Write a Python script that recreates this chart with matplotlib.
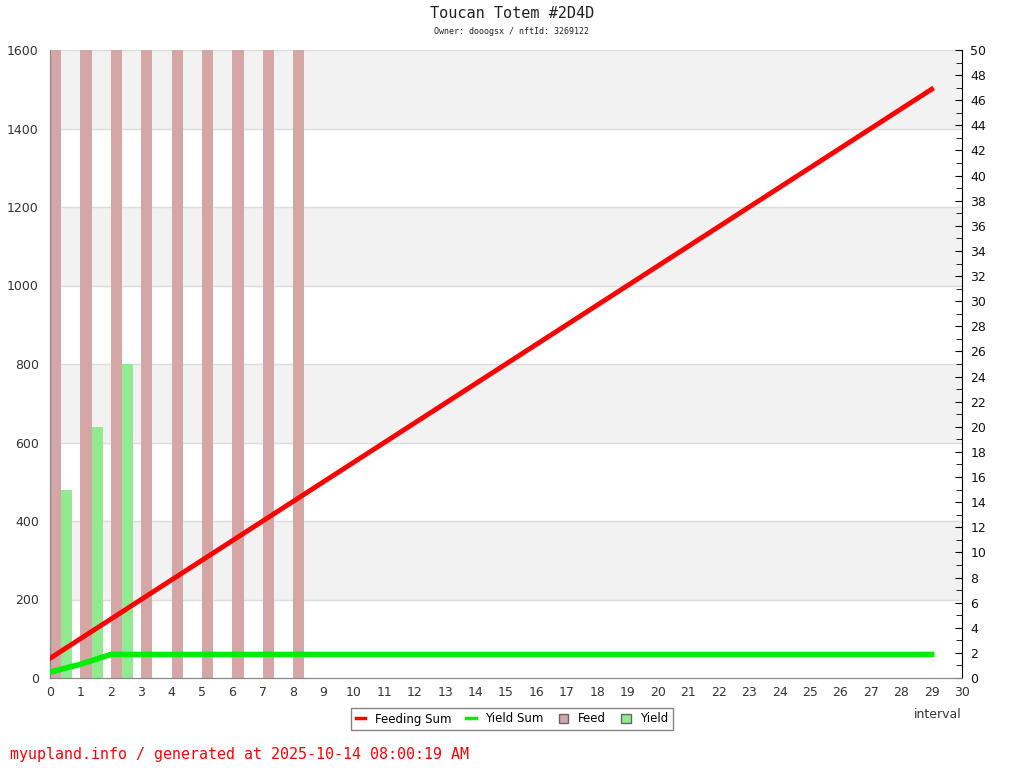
import matplotlib.pyplot as plt
from matplotlib.patches import Patch
from matplotlib.lines import Line2D

# data
intervals = list(range(30))
feeding_sum = [50 * (i + 1) for i in range(30)]
yield_sum = [15, 35, 60] + [60] * 27
feed_x = list(range(9))
feed = [50] * 9
yield_x = [0, 1, 2]
yield_vals = [15, 20, 25]

fig = plt.figure(figsize=(10.24, 7.68), dpi=100)
ax = fig.add_axes([50 / 1024, 1 - 678 / 768, 912 / 1024, 628 / 768])
ax2 = ax.twinx()

# background bands (drawn on right axis, left scale 1600 -> 50)
k = 50 / 1600
for lo in [200, 600, 1000, 1400]:
    ax2.axhspan(lo * k, (lo + 200) * k, color="#f2f2f2", zorder=0)
for y in range(200, 1601, 200):
    ax2.axhline(y * k, color="#dddddd", lw=1, zorder=0.5)

w = 0.37
ax2.bar([x + w / 2 for x in feed_x], feed, width=w, color="#d4a6a6", zorder=1)
ax2.bar([x + w * 1.5 for x in yield_x], yield_vals, width=w, color="#90ea90", zorder=1)

ax.set_zorder(ax2.get_zorder() + 1)
ax.patch.set_visible(False)
ax.plot(intervals, feeding_sum, color="#ff0000", lw=3.5, zorder=3)
ax.plot(intervals, yield_sum, color="#00ee00", lw=4, zorder=3)

ax.set_xlim(0, 30)
ax.set_ylim(0, 1600)
ax2.set_ylim(0, 50)
ax.set_xticks(range(31))
ax.set_yticks(range(0, 1601, 200))
ax2.set_yticks(range(0, 51, 2))
ax2.set_yticks(range(0, 51, 1), minor=True)
ax.tick_params(axis="y", length=0, labelsize=9, colors="#333333", pad=8)
ax.tick_params(axis="x", length=0, labelsize=9, colors="#333333", pad=6)
ax2.tick_params(axis="y", direction="in", length=5, labelsize=9, colors="#111111",
                color="#000000", pad=6)
ax2.tick_params(axis="y", which="minor", direction="in", length=4, color="#000000")

for a in (ax, ax2):
    a.spines["top"].set_visible(False)
    a.spines["left"].set_color("#888888")
    a.spines["bottom"].set_color("#888888")
ax.spines["right"].set_visible(False)
ax2.spines["right"].set_color("#000000")

fig.text(962 / 1024, 1 - 714 / 768, "interval", ha="right", va="center", fontsize=9, color="#333333")
fig.text(0.5, 1 - 14 / 768, "Toucan Totem #2D4D", ha="center", va="center",
         fontsize=11, family="DejaVu Sans Mono", color="#222222")
fig.text(0.5, 1 - 31 / 768, "Owner: dooogsx / nftId: 3269122", ha="center", va="center",
         fontsize=6, family="DejaVu Sans Mono", color="#222222")
fig.text(10 / 1024, 1 - 754 / 768, "myupland.info / generated at 2025-10-14 08:00:19 AM",
         ha="left", va="center", fontsize=10.8, family="DejaVu Sans Mono", color="#ff0000")

handles = [
    Line2D([], [], color="#ff0000", lw=2.5),
    Line2D([], [], color="#00ee00", lw=2.5),
    Patch(facecolor="#d4a6a6", edgecolor="#666666"),
    Patch(facecolor="#90ea90", edgecolor="#666666"),
]
fig.legend(handles, ["Feeding Sum", "Yield Sum", "Feed", "Yield"], ncol=4,
           loc="center", bbox_to_anchor=(512 / 1024, 1 - 719 / 768), fontsize=8.5,
           frameon=True, fancybox=False, edgecolor="#666666", handlelength=0.8,
           handletextpad=0.8, columnspacing=1.3, borderpad=0.4)

fig.savefig("out.png", dpi=100)
